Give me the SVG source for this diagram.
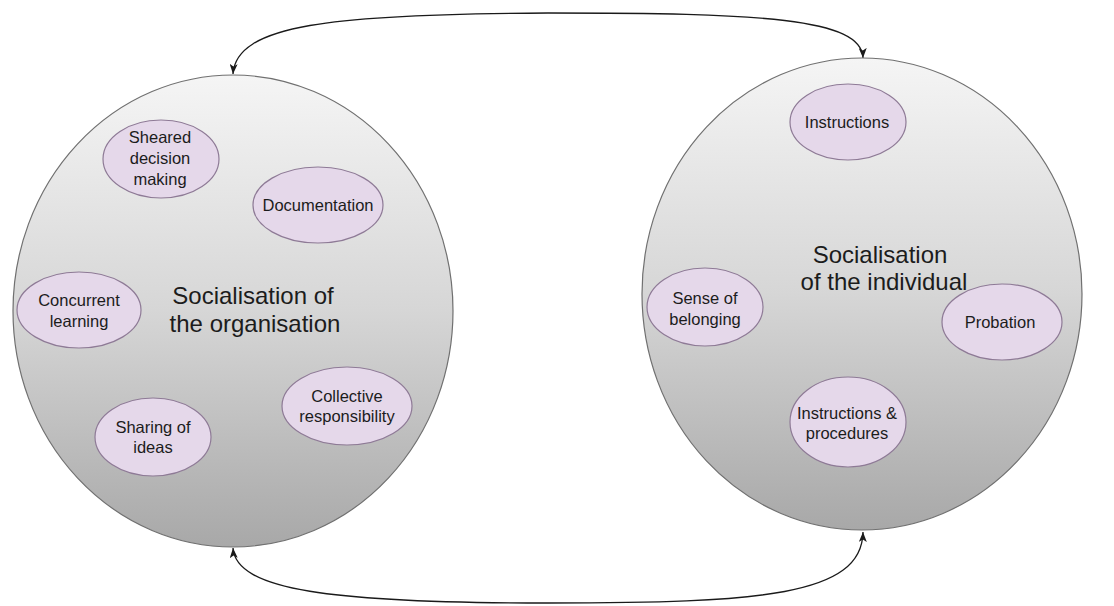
<svg xmlns="http://www.w3.org/2000/svg" width="1114" height="606" viewBox="0 0 1114 606">
  <style>
    .big { stroke: #707070; stroke-width: 1.2; fill: url(#sphereFill); }
    .item { fill: #e5d8ea; stroke: #8e7a96; stroke-width: 1.2; }
    .title { font-family: "Liberation Sans", Arial, Helvetica, sans-serif; font-size: 24px; fill: #1c1c1c; text-anchor: middle; }
    .label { font-family: "Liberation Sans", Arial, Helvetica, sans-serif; font-size: 16.5px; fill: #1c1c1c; text-anchor: middle; }
    .link { fill: none; stroke: #1a1a1a; stroke-width: 1.3; marker-start: url(#head); marker-end: url(#head); }
  </style>
  <defs>
    <linearGradient id="sphereFill" x1="0" y1="0" x2="0" y2="1">
      <stop offset="0" stop-color="#f5f5f5"/>
      <stop offset="0.5" stop-color="#d6d6d6"/>
      <stop offset="1" stop-color="#a8a8a8"/>
    </linearGradient>
    <marker id="head" viewBox="0 0 10 8" refX="10" refY="4" markerWidth="10" markerHeight="8" markerUnits="userSpaceOnUse" orient="auto-start-reverse">
      <path d="M0,0 L10,4 L0,8 L2.5,4 Z" fill="#1a1a1a"/>
    </marker>
  </defs>

  <rect width="1114" height="606" fill="#ffffff"/>

  <!-- two-way links between the two spheres -->
  <g id="connectors">
    <path class="link" d="M233,74 C236,25 330,14 548,13 C760,13 862,18 863,58"/>
    <path class="link" d="M233,548 C236,590 330,603 548,603 C760,603 862,596 863,532"/>
  </g>

  <!-- organisation sphere -->
  <g id="organisation">
    <ellipse class="big" cx="233" cy="311" rx="220" ry="236"/>
    <text class="title" x="253" y="304">Socialisation of</text>
    <text class="title" x="255" y="332">the organisation</text>
  </g>

  <g id="shared-decision">
    <ellipse class="item" cx="161" cy="159" rx="58" ry="39"/>
    <text class="label" x="160" y="143">Sheared</text>
    <text class="label" x="160" y="164">decision</text>
    <text class="label" x="160" y="185">making</text>
  </g>

  <g id="documentation">
    <ellipse class="item" cx="318" cy="205" rx="65" ry="38"/>
    <text class="label" x="318" y="211">Documentation</text>
  </g>

  <g id="concurrent-learning">
    <ellipse class="item" cx="79" cy="310" rx="62" ry="38"/>
    <text class="label" x="79" y="306">Concurrent</text>
    <text class="label" x="79" y="327">learning</text>
  </g>

  <g id="sharing-ideas">
    <ellipse class="item" cx="153" cy="437" rx="58" ry="39"/>
    <text class="label" x="153" y="433">Sharing of</text>
    <text class="label" x="153" y="453">ideas</text>
  </g>

  <g id="collective-responsibility">
    <ellipse class="item" cx="347" cy="406" rx="65" ry="39"/>
    <text class="label" x="347" y="402">Collective</text>
    <text class="label" x="347" y="422">responsibility</text>
  </g>

  <!-- individual sphere -->
  <g id="individual">
    <ellipse class="big" cx="862" cy="294" rx="220" ry="236"/>
    <text class="title" x="880" y="263">Socialisation</text>
    <text class="title" x="884" y="290">of the individual</text>
  </g>

  <g id="instructions">
    <ellipse class="item" cx="848" cy="122" rx="58" ry="38"/>
    <text class="label" x="847" y="128">Instructions</text>
  </g>

  <g id="sense-of-belonging">
    <ellipse class="item" cx="705" cy="307" rx="58" ry="39"/>
    <text class="label" x="705" y="304">Sense of</text>
    <text class="label" x="705" y="325">belonging</text>
  </g>

  <g id="probation">
    <ellipse class="item" cx="1002" cy="322" rx="60" ry="38"/>
    <text class="label" x="1000" y="328">Probation</text>
  </g>

  <g id="instructions-procedures">
    <ellipse class="item" cx="848" cy="422" rx="58" ry="45"/>
    <text class="label" x="847" y="419">Instructions &amp;</text>
    <text class="label" x="847" y="439">procedures</text>
  </g>
</svg>
